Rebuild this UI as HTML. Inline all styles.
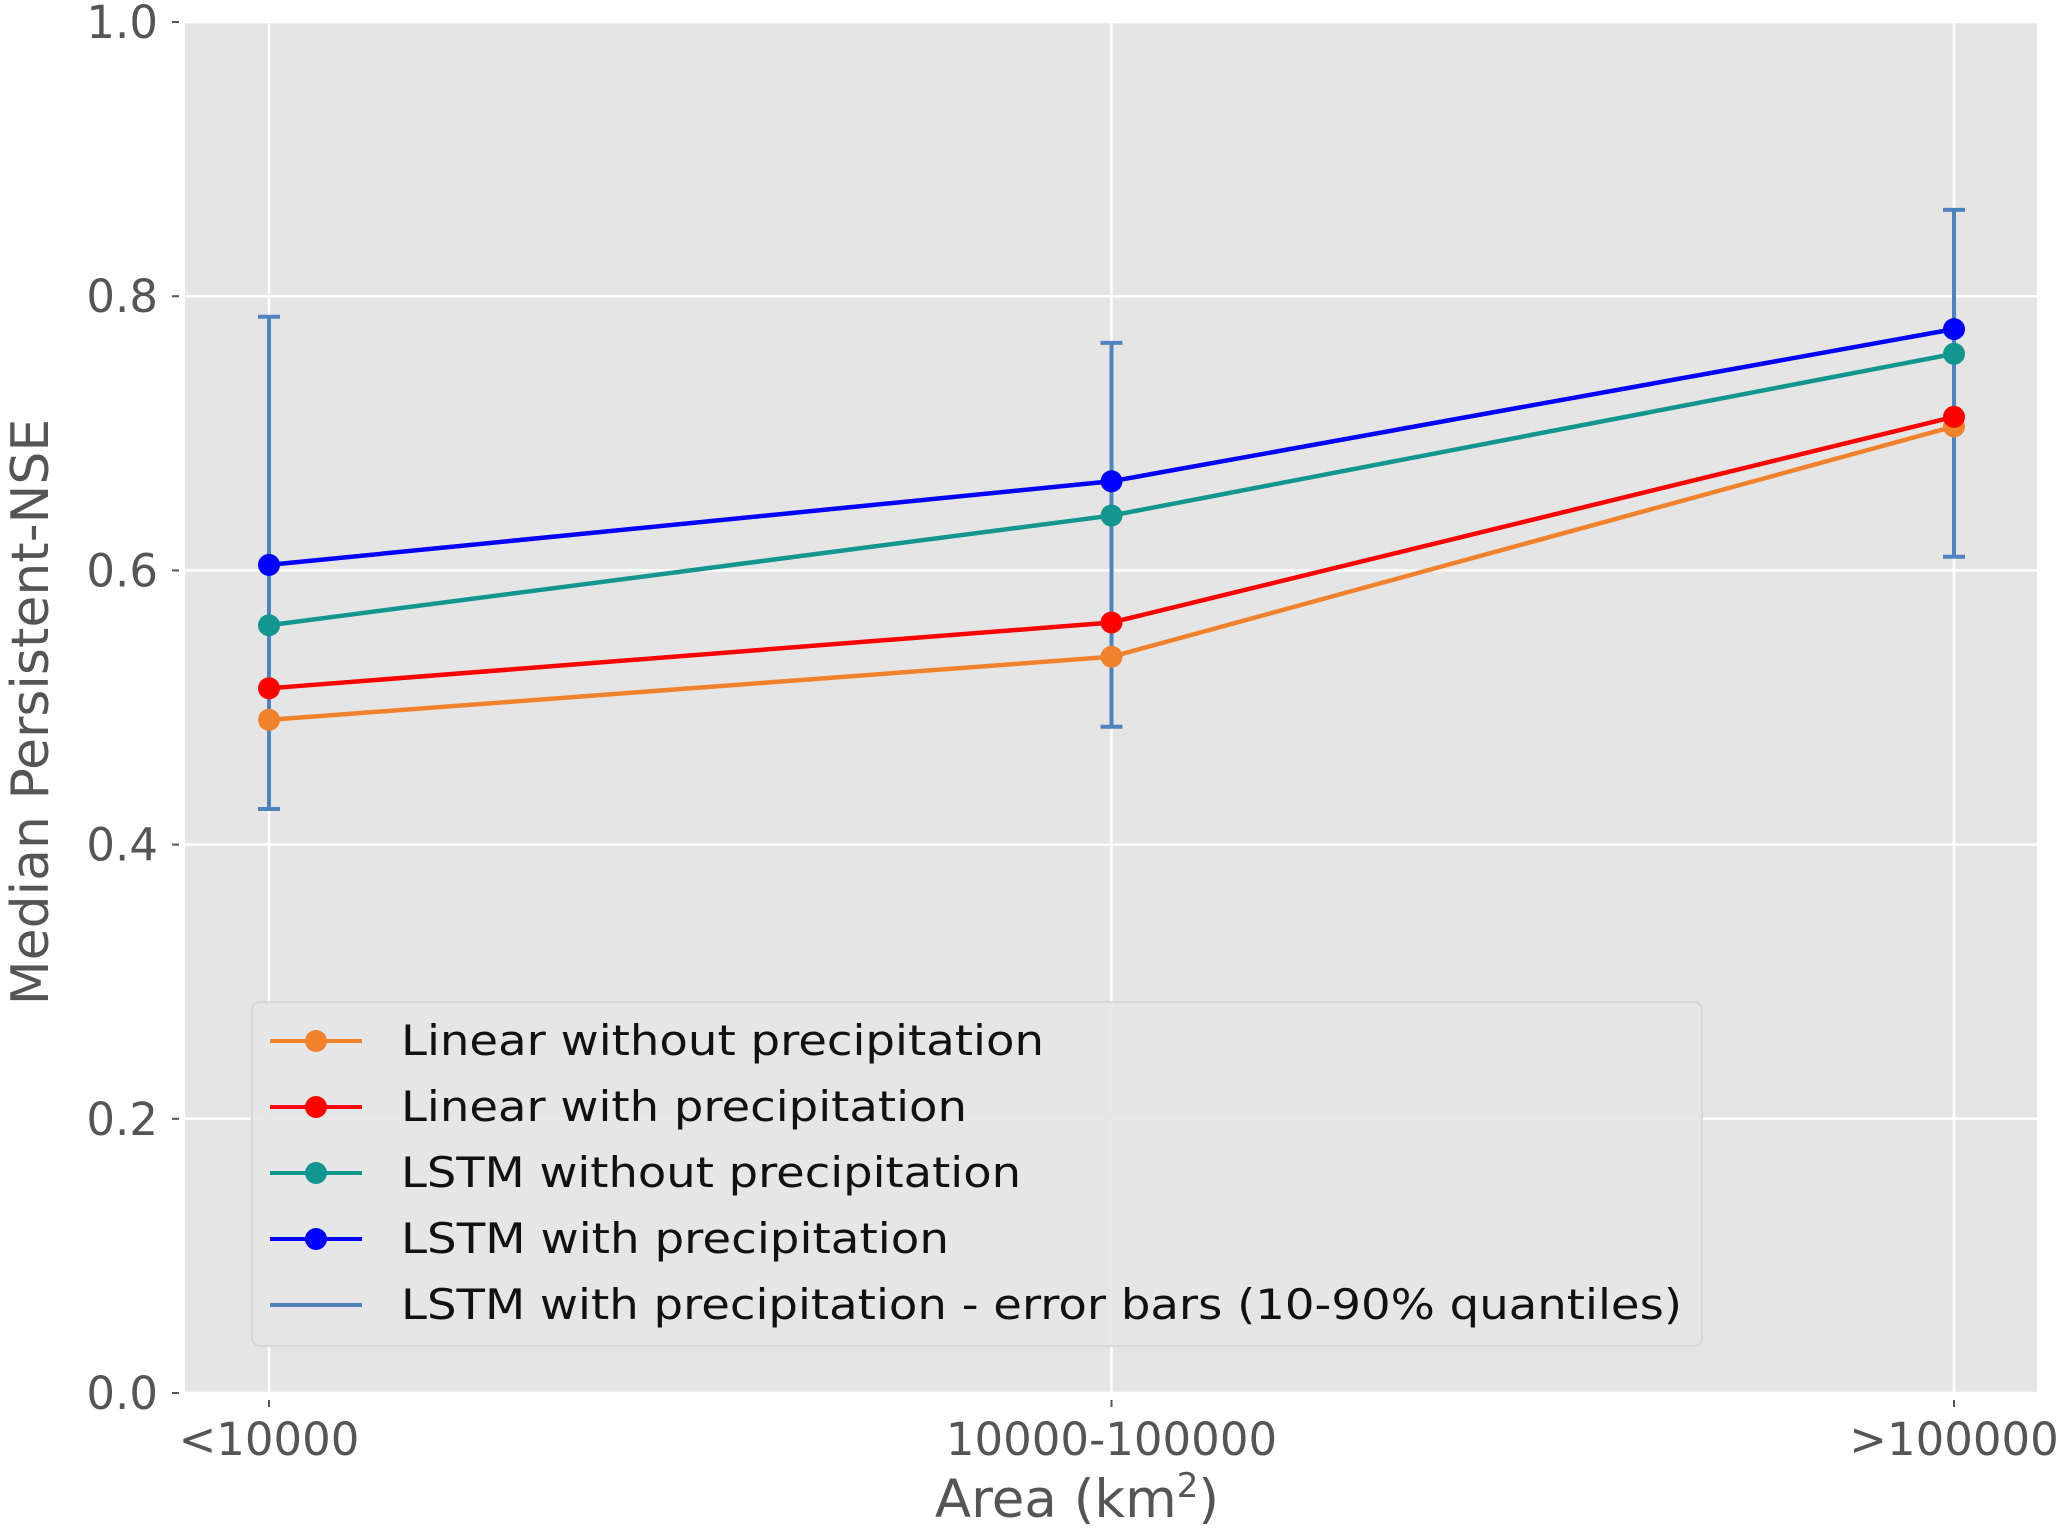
<!DOCTYPE html>
<html><head><meta charset="utf-8"><style>html,body{margin:0;padding:0;background:#fff;}svg{display:block}</style></head>
<body>
<svg id="chart" width="2067" height="1533" xmlns="http://www.w3.org/2000/svg" font-family="'DejaVu Sans','Liberation Sans',sans-serif">
<rect x="185" y="22" width="1852" height="1371" fill="#e5e5e5"/>
<g id="grid"></g><g id="ticks"></g><g id="errs"></g><g id="series"></g>
<text x="0" y="0" transform="translate(48,712) rotate(-90)" text-anchor="middle" font-size="52" fill="#555">Median Persistent-NSE</text>
<text x="1077" y="1517" text-anchor="middle" font-size="53" fill="#555">Area (km<tspan font-size="34" dy="-20">2</tspan><tspan dy="20">)</tspan></text>
<g id="legend"></g>
</svg>
<script>
const categories = ["<10000","10000-100000",">100000"];
const linearNoPrecip = [0.491,0.537,0.705];
const linearPrecip = [0.514,0.562,0.712];
const lstmNoPrecip = [0.560,0.640,0.758];
const lstmPrecip = [0.604,0.665,0.776];
const errLow = [0.426,0.486,0.610];
const errHigh = [0.785,0.766,0.863];
const yTicks = [0.0,0.2,0.4,0.6,0.8,1.0];
const seriesNames = ["Linear without precipitation","Linear with precipitation","LSTM without precipitation","LSTM with precipitation"];

const NS="http://www.w3.org/2000/svg";
const X0=269, X1=1954, Y0=1393, Y1=22;
const xs=i=>X0+(X1-X0)*i/(categories.length-1);
const ys=v=>Y0-(Y0-Y1)*v;
function mk(tag,at,parent,txt){const e=document.createElementNS(NS,tag);for(const k in at)e.setAttribute(k,at[k]);if(txt!==undefined)e.textContent=txt;document.getElementById(parent).appendChild(e);return e;}
yTicks.forEach(v=>{
  const g=mk('line',{x1:185,x2:2037,y1:ys(v),y2:ys(v),stroke:'#fff','stroke-width':2.5},'grid');
  
  
  const t=mk('line',{x1:172,x2:179,y1:ys(v),y2:ys(v),stroke:'#555','stroke-width':2},'ticks');
  
  
  const l=mk('text',{x:158,y:ys(v)+16,'text-anchor':'end','font-size':45,fill:'#555'},'ticks',v.toFixed(1));
  
  
});
categories.forEach((c,i)=>{
  const g=mk('line',{x1:xs(i),x2:xs(i),y1:22,y2:1393,stroke:'#fff','stroke-width':2.5},'grid');
  
  
  const t=mk('line',{x1:xs(i),x2:xs(i),y1:1400,y2:1407,stroke:'#555','stroke-width':2},'ticks');
  
  
  const l=mk('text',{x:xs(i),y:1455,'text-anchor':'middle','font-size':45,fill:'#555'},'ticks',c);
  
  
});
const errColor='#5083bd';
categories.forEach((c,i)=>{
  const x=xs(i);
  const e=mk('path',{d:`M${x},${ys(errLow[i])}V${ys(errHigh[i])}M${x-11},${ys(errLow[i])}H${x+11}M${x-11},${ys(errHigh[i])}H${x+11}`,stroke:errColor,'stroke-width':4,fill:'none'},'errs');
  
  
});
const allSeries=[linearNoPrecip,linearPrecip,lstmNoPrecip,lstmPrecip];
const colors=['#f0822e','#ff0000','#139690','#0000ff'];
allSeries.forEach((s,k)=>{
  const p=mk('polyline',{points:s.map((v,i)=>xs(i)+','+ys(v)).join(' '),fill:'none',stroke:colors[k],'stroke-width':4.5},'series');
  
  
  s.forEach((v,i)=>{
    const c=mk('circle',{cx:xs(i),cy:ys(v),r:11,fill:colors[k]},'series');
    
    
  });
});
const lb=mk('rect',{x:252,y:1002,width:1450,height:344,rx:8,fill:'#e5e5e5',stroke:'#d8d8d8','stroke-width':2,'fill-opacity':0.9},'legend');


const legNames=seriesNames.concat(["LSTM with precipitation - error bars (10-90% quantiles)"]);
const legColors=colors.concat([errColor]);
const legWidths=[643,566,620,548,1281];
legNames.forEach((n,k)=>{
  const y=1041+66*k;
  const l=mk('line',{x1:270,x2:362,y1:y,y2:y,stroke:legColors[k],'stroke-width':4},'legend');
  
  
  if(k<4){const c=mk('circle',{cx:316,cy:y,r:11,fill:legColors[k]},'legend');
    
    }
  const t=mk('text',{x:401,y:y+14,'font-size':42,fill:'#111',textLength:legWidths[k],lengthAdjust:'spacingAndGlyphs'},'legend',n);
  
  
});
</script>
</body></html>
